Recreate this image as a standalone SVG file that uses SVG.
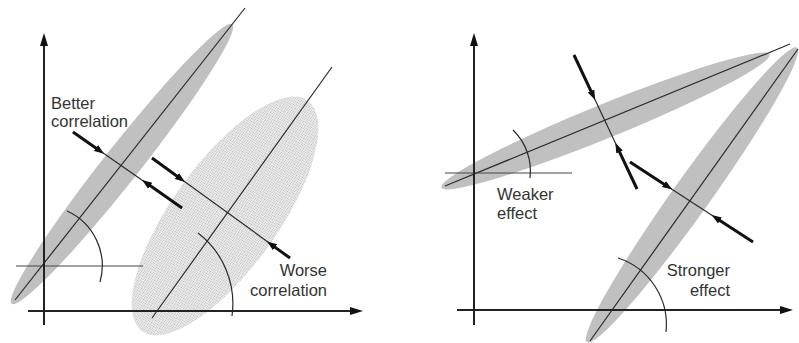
<svg xmlns="http://www.w3.org/2000/svg" width="799" height="343" viewBox="0 0 799 343">
<style>
.bg{fill:#ffffff}
.dark{fill:#c0c0c0}
.light{fill:url(#stip)}
.thin{stroke:#2a2a2a;stroke-width:1.2;fill:none}
.ref{stroke:#444;stroke-width:1.2;fill:none}
.axis{stroke:#222;stroke-width:2;fill:none}
.thick{stroke:#111;stroke-width:3;fill:none;marker-end:url(#ah)}
.lbl{font-family:"Liberation Sans",Arial,sans-serif;font-size:16.5px;fill:#333}
</style>
<defs>
<pattern id="stip" width="2" height="2" patternUnits="userSpaceOnUse">
<rect width="2" height="2" fill="#ececec"/>
<rect width="1" height="1" fill="#b8b8b8"/>
</pattern>
<marker id="axh" markerUnits="userSpaceOnUse" markerWidth="14" markerHeight="10" viewBox="0 -5 14 10" refX="0" refY="0" orient="auto">
<path d="M0,-4 L13,0 L0,4 Z" fill="#111"/>
</marker>
<marker id="ah" markerUnits="userSpaceOnUse" markerWidth="12" markerHeight="10" viewBox="0 -5 12 10" refX="2" refY="0" orient="auto">
<path d="M0,-3.6 L10,0 L0,3.6 Z" fill="#111"/>
</marker>
</defs>
<rect class="bg" width="799" height="343"/>

<g id="ellipse-better">
<ellipse class="dark" cx="0" cy="0" rx="178" ry="18" transform="translate(122,164) rotate(-51.7)"/>
<line class="thin" x1="15" y1="300" x2="245" y2="8"/>
</g>
<g id="ellipse-worse">
<ellipse class="light" cx="0" cy="0" rx="142" ry="53" transform="translate(225,216) rotate(-54.3)"/>
<line class="thin" x1="152" y1="318" x2="332" y2="67"/>
</g>
<g id="ellipse-weaker">
<ellipse class="dark" cx="0" cy="0" rx="177" ry="17" transform="translate(605.5,121) rotate(-22.1)"/>
<line class="thin" x1="445" y1="186" x2="790" y2="44"/>
</g>
<g id="ellipse-stronger">
<ellipse class="dark" cx="0" cy="0" rx="181" ry="18.5" transform="translate(692,195) rotate(-54.5)"/>
<line class="thin" x1="590" y1="341" x2="798" y2="49"/>
</g>

<g id="left-axes">
<line class="ref" x1="16" y1="266" x2="143" y2="266"/>
<path class="thin" d="M67,211 A60,60 0 0 1 100,282"/>
<path class="thin" d="M198,233 A89,89 0 0 1 232,316"/>
<path class="axis" d="M44,325 V46" marker-end="url(#axh)"/>
<path class="axis" d="M28,311 H350" marker-end="url(#axh)"/>
</g>
<g id="right-axes">
<line class="ref" x1="445" y1="173" x2="572" y2="173"/>
<path class="thin" d="M513,130 A57,57 0 0 1 530,178"/>
<path class="thin" d="M618,258 A70,70 0 0 1 666,332"/>
<path class="axis" d="M474,325 V46" marker-end="url(#axh)"/>
<path class="axis" d="M457,310 H780" marker-end="url(#axh)"/>
</g>

<g id="connectors">
<line class="thin" x1="73" y1="132" x2="182" y2="208"/>
<path class="thick" d="M73,132 L97.6,149.2"/>
<path class="thick" d="M182,208 L148.6,184.6"/>
<line class="thin" x1="152" y1="158" x2="290" y2="258"/>
<path class="thick" d="M152,158 L178.5,177.2"/>
<path class="thick" d="M290,258 L273.5,246.1"/>
<line class="thin" x1="574" y1="55" x2="637" y2="189"/>
<path class="thick" d="M574,55 L591.8,92.8"/>
<path class="thick" d="M637,189 L618.7,150.1"/>
<line class="thin" x1="630" y1="162" x2="753" y2="242"/>
<path class="thick" d="M630,162 L665.6,185.2"/>
<path class="thick" d="M753,242 L718.3,219.4"/>
</g>

<g id="label-better">
<text class="lbl" x="51" y="109">Better</text>
<text class="lbl" x="51" y="127">correlation</text>
</g>
<g id="label-worse">
<text class="lbl" x="327" y="276" text-anchor="end">Worse</text>
<text class="lbl" x="327" y="296" text-anchor="end">correlation</text>
</g>
<g id="label-weaker">
<text class="lbl" x="497" y="200">Weaker</text>
<text class="lbl" x="497" y="219">effect</text>
</g>
<g id="label-stronger">
<text class="lbl" x="730" y="276" text-anchor="end">Stronger</text>
<text class="lbl" x="730" y="296" text-anchor="end">effect</text>
</g>
</svg>
